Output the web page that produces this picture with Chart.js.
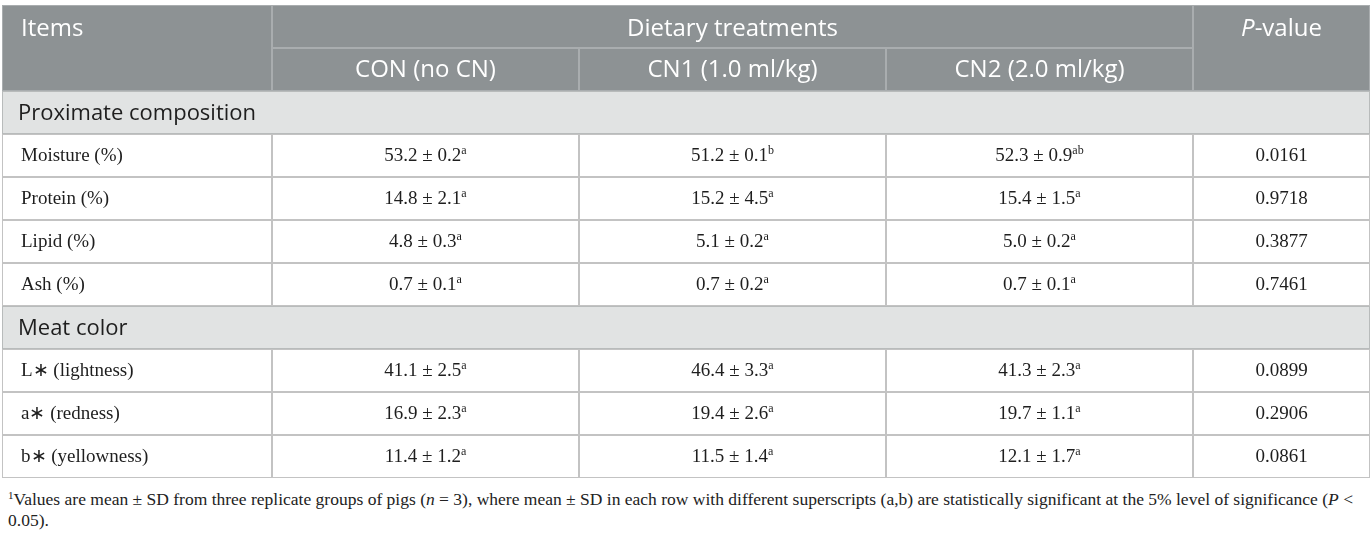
<!DOCTYPE html>
<html>
<head>
<meta charset="utf-8">
<script src="https://cdn.jsdelivr.net/npm/chart.js@4.4.1/dist/chart.umd.min.js"></script>
<style>
  body { margin: 0; background: #fff; }
  #wrap { position: relative; width: 1372px; height: 480px; }
  #note {
    position: absolute; left: 8px; top: 489px; width: 1362px;
    font: 17.5px "Liberation Serif", "Times New Roman", serif;
    line-height: 21px; color: #222;
  }
  #note sup { font-size: 11px; vertical-align: 6px; line-height: 0; }
</style>
</head>
<body>
<div id="wrap"><canvas id="tbl"></canvas></div>
<div id="note"><sup>1</sup>Values are mean ± SD from three replicate groups of pigs (<i>n</i> = 3), where mean ± SD in each row with different superscripts (a,b) are statistically significant at the 5% level of significance (<i>P</i> &lt; 0.05).</div>
<script>
/* ── look ── */
const HEAD_BG   = '#8d9294';
const HEAD_LINE = '#a9adaf';
const SEC_BG    = '#e1e3e3';
const SEC_LINE  = '#b8bbbb';
const BODY_LINE = '#c3c3c3';
const TXT       = '#1e1e1e';
const SANS  = '"Open Sans", "Noto Sans", sans-serif';
const SERIF = '"Liberation Serif", "Times New Roman", serif';

/* ── data ── */
const treatments  = ['CON (no CN)', 'CN1 (1.0 ml/kg)', 'CN2 (2.0 ml/kg)'];
const sections    = ['Proximate composition', 'Meat color'];
const sectionSize = [4, 3];
const items = ['Moisture (%)', 'Protein (%)', 'Lipid (%)', 'Ash (%)',
               'L\u2217 (lightness)', 'a\u2217 (redness)', 'b\u2217 (yellowness)'];

const conMean = [53.2, 14.8, 4.8, 0.7, 41.1, 16.9, 11.4];
const conSD   = [0.2, 2.1, 0.3, 0.1, 2.5, 2.3, 1.2];
const conSup  = ['a', 'a', 'a', 'a', 'a', 'a', 'a'];

const cn1Mean = [51.2, 15.2, 5.1, 0.7, 46.4, 19.4, 11.5];
const cn1SD   = [0.1, 4.5, 0.2, 0.2, 3.3, 2.6, 1.4];
const cn1Sup  = ['b', 'a', 'a', 'a', 'a', 'a', 'a'];

const cn2Mean = [52.3, 15.4, 5.0, 0.7, 41.3, 19.7, 12.1];
const cn2SD   = [0.9, 1.5, 0.2, 0.1, 2.3, 1.1, 1.7];
const cn2Sup  = ['ab', 'a', 'a', 'a', 'a', 'a', 'a'];

const pValues = ['0.0161', '0.9718', '0.3877', '0.7461', '0.0899', '0.2906', '0.0861'];

/* ── layout (table units = px) ── */
const colWidths = [270, 307, 307, 307, 177];
const colEdges  = colWidths.reduce((a, w) => { a.push(a[a.length - 1] + w); return a; }, [0]);
const TOTAL     = colEdges[colEdges.length - 1];

/* ── rows of cells ── */
const groups = [
  { mean: conMean, sd: conSD, sup: conSup },
  { mean: cn1Mean, sd: cn1SD, sup: cn1Sup },
  { mean: cn2Mean, sd: cn2SD, sup: cn2Sup },
];

const rows = [];
const rowKeys = [];
rows.push([
  { c0: 0, c1: 0, kind: 'headTop', align: 'left', parts: [{ t: 'Items' }] },
  { c0: 1, c1: 3, kind: 'head', parts: [{ t: 'Dietary treatments' }] },
  { c0: 4, c1: 4, kind: 'headTop', parts: [{ t: 'P', italic: true }, { t: '-value' }] },
]);
rowKeys.push('head1');
rows.push([
  { c0: 0, c1: 0, kind: 'headBot', parts: [] },
  ...treatments.map((t, i) => ({ c0: i + 1, c1: i + 1, kind: 'head', parts: [{ t }] })),
  { c0: 4, c1: 4, kind: 'headBot', parts: [] },
]);
rowKeys.push('head2');

let idx = 0;
sections.forEach((sec, s) => {
  rows.push([{ c0: 0, c1: 4, kind: 'sec', align: 'left', parts: [{ t: sec }] }]);
  rowKeys.push(sec);
  for (let n = 0; n < sectionSize[s]; n++, idx++) {
    const i = idx;
    rows.push([
      { c0: 0, c1: 0, kind: 'body', align: 'left', parts: [{ t: items[i] }] },
      ...groups.map((g, j) => ({
        c0: j + 1, c1: j + 1, kind: 'body',
        parts: [{ t: g.mean[i].toFixed(1) + ' \u00b1 ' + g.sd[i].toFixed(1) }, { t: g.sup[i], sup: true }],
      })),
      { c0: 4, c1: 4, kind: 'body', parts: [{ t: pValues[i] }] },
    ]);
    rowKeys.push(items[i]);
  }
});

// cellGrid[column][row] -> cell starting in that column
const cellGrid = colWidths.map((w, k) => rows.map(row => row.find(c => c.c0 === k) || null));

const styles = {
  headTop: { bg: HEAD_BG, line: HEAD_LINE, bw: { top: 1, left: 1, right: 1, bottom: 0 } },
  headBot: { bg: HEAD_BG, line: HEAD_LINE, bw: { top: 0, left: 1, right: 1, bottom: 1 } },
  head:    { bg: HEAD_BG, line: HEAD_LINE, bw: 1 },
  sec:     { bg: SEC_BG,  line: SEC_LINE,  bw: 1 },
  body:    { bg: '#ffffff', line: BODY_LINE, bw: 1 },
};
const styleOf = ctx => {
  const c = cellGrid[ctx.datasetIndex] && cellGrid[ctx.datasetIndex][ctx.dataIndex];
  return styles[c ? c.kind : 'body'];
};

const datasets = colWidths.map((w, k) => ({
  data: cellGrid[k].map(c => c ? [colEdges[c.c0], colEdges[c.c1 + 1]] : null),
  grouped: false,
  barPercentage: 1,
  categoryPercentage: 1,
  borderSkipped: false,
  inflateAmount: 0,
  backgroundColor: ctx => styleOf(ctx).bg,
  borderColor: ctx => styleOf(ctx).line,
  borderWidth: ctx => styleOf(ctx).bw,
}));

/* ── text inside cells ── */
function partFont(cell, p) {
  const sans = cell.kind !== 'body';
  if (p.sup) return '12px ' + SERIF;
  if (sans) return (p.italic ? 'italic ' : '') + (cell.kind === 'sec' ? '22px ' : '24px ') + SANS;
  return '19px ' + SERIF;
}

const cellText = {
  id: 'cellText',
  afterDatasetsDraw(chart) {
    const ctx = chart.ctx;
    ctx.save();
    ctx.textBaseline = 'middle';
    ctx.textAlign = 'left';
    chart.data.datasets.forEach((ds, k) => {
      const meta = chart.getDatasetMeta(k);
      meta.data.forEach((el, r) => {
        const cell = cellGrid[k][r];
        if (!cell || !cell.parts.length) return;
        const { x, base, y } = el.getProps(['x', 'base', 'y'], true);
        const left = Math.min(x, base), right = Math.max(x, base);
        const widths = cell.parts.map(p => { ctx.font = partFont(cell, p); return ctx.measureText(p.t).width; });
        const total = widths.reduce((a, b) => a + b, 0);
        let cx = cell.align === 'left'
          ? left + (cell.kind === 'sec' ? 16 : 19)
          : (left + right) / 2 - total / 2;
        const cy = y + (r === 0 ? 3 : 1);
        ctx.fillStyle = cell.kind.startsWith('head') ? '#ffffff' : TXT;
        cell.parts.forEach((p, i) => {
          ctx.font = partFont(cell, p);
          ctx.fillText(p.t, cx, p.sup ? cy - 6 : cy);
          cx += widths[i];
        });
      });
    });
    ctx.restore();
  }
};

new Chart(document.getElementById('tbl'), {
  type: 'bar',
  data: { labels: rowKeys, datasets },
  options: {
    indexAxis: 'y',
    responsive: true,
    maintainAspectRatio: false,
    animation: false,
    events: [],
    layout: { padding: { left: 2, right: 2, top: 5, bottom: 2 } },
    plugins: { legend: { display: false }, tooltip: { enabled: false } },
    scales: {
      x: { type: 'linear', min: 0, max: TOTAL, display: false },
      y: { display: false },
    },
  },
  plugins: [cellText],
});
</script>
</body>
</html>
